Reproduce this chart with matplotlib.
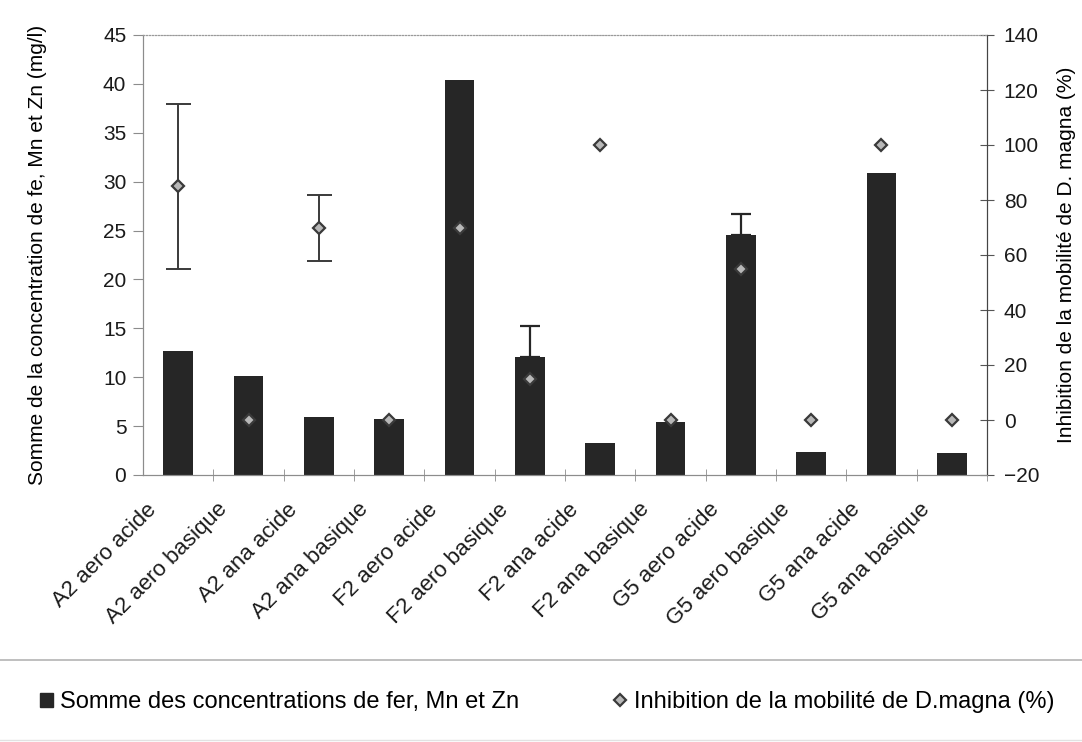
import numpy as np
import matplotlib; matplotlib.use('Agg')
import matplotlib.pyplot as plt
from matplotlib.lines import Line2D
from matplotlib.patches import Patch
from matplotlib.transforms import ScaledTranslation

plt.rcParams.update({'font.family': ['Liberation Sans', 'DejaVu Sans'], 'font.size': 15})

# echantillons (site, condition redox, pH)
categories = ['A2 aero acide', 'A2 aero basique', 'A2 ana acide', 'A2 ana basique',
              'F2 aero acide', 'F2 aero basique', 'F2 ana acide', 'F2 ana basique',
              'G5 aero acide', 'G5 aero basique', 'G5 ana acide', 'G5 ana basique']
# somme fer + Mn + Zn (mg/l) et ecart-type (vers le haut seulement)
somme_metaux = [12.7, 10.1, 5.9, 5.7, 40.4, 12.1, 3.3, 5.4, 24.5, 2.4, 30.9, 2.2]
somme_err = [0, 0, 0, 0, 0, 3.1, 0, 0, 2.2, 0, 0, 0]
# inhibition de la mobilite de D. magna (%) et ecart-type
inhibition = [85, 0, 70, 0, 70, 15, 100, 0, 55, 0, 100, 0]
inhibition_err = [30, 0, 12, 0, 0, 0, 0, 0, 0, 0, 0, 0]

BAR = '#262626'; AX = '#8c8c8c'; INK = '#1a1a1a'

fig = plt.figure(figsize=(10.82, 7.42), dpi=100)
ax = fig.add_axes([143/1082, 1-475/742, (987-143)/1082, (475-35)/742])
x = np.arange(len(categories))
y1 = np.array(somme_metaux); e1 = np.array(somme_err)
y2 = np.array(inhibition); e2 = np.array(inhibition_err)

ax.bar(x, y1, 0.42, color=BAR, zorder=2)
k = e1 > 0  # barres d'erreur seulement quand il y a un ecart-type
ax.errorbar(x[k], y1[k], yerr=[np.zeros(k.sum()), e1[k]], fmt='none',
            ecolor=BAR, elinewidth=1.6, capsize=7, capthick=1.6, zorder=3)
ax.set_xlim(-0.5, len(x)-0.5); ax.set_ylim(0, 45)
ax.set_yticks(np.arange(0, 46, 5))
ax.set_ylabel('Somme de la concentration de fe, Mn et Zn (mg/l)', fontsize=15, labelpad=40)

ax2 = ax.twinx()
k2 = e2 > 0
ax2.errorbar(x[k2], y2[k2], yerr=e2[k2], fmt='none', ecolor='#3a3a3a',
             elinewidth=1.4, capsize=9, capthick=1.4, zorder=4)
ax2.plot(x, y2, ls='none', marker='D', ms=6.5, mfc='#b8b8b8', mec='#3a3a3a',
         mew=1.6, zorder=5)
ax2.set_ylim(-20, 140); ax2.set_yticks(np.arange(-20, 141, 20))
ax2.set_ylabel('Inhibition de la mobilité de D. magna (%)', fontsize=15, labelpad=13)

# cadre : haut en pointille, droite plus sombre
for a in (ax, ax2):
    a.spines['top'].set_linestyle(':'); a.spines['top'].set_color('#9a9a9a')
    a.spines['left'].set_color(AX); a.spines['bottom'].set_color(AX)
    a.spines['right'].set_color('#444444')
ax2.set_zorder(ax.get_zorder()+1); ax2.patch.set_visible(False)

ax.tick_params(axis='y', direction='out', length=7, color=AX, labelsize=15, pad=5, labelcolor=INK)
ax2.tick_params(axis='y', direction='inout', length=10, color='#555555', labelsize=15, pad=7, labelcolor=INK)

# graduations x entre les categories, etiquettes inclinees
ax.set_xticks(x + 0.5, minor=True)
ax.tick_params(axis='x', which='minor', direction='inout', length=9, color=AX)
ax.set_xticks(x)
ax.set_xticklabels(categories, rotation=45, ha='right', va='top', rotation_mode='anchor')
ax.tick_params(axis='x', which='major', length=0, pad=0, labelsize=16, labelcolor=INK)
shift = ScaledTranslation(-0.32, -0.24, fig.dpi_scale_trans)
for lab in ax.get_xticklabels():
    lab.set_transform(lab.get_transform() + shift)

# separation et legende en bas
fig.add_artist(Line2D([0, 1], [1-660/742]*2, transform=fig.transFigure, color='#b4b4b4', lw=1.2))
fig.add_artist(Line2D([0, 1], [1-740/742]*2, transform=fig.transFigure, color='#e2e2e2', lw=1.0))
handles = [Patch(facecolor=BAR, edgecolor=BAR),
           Line2D([], [], ls='none', marker='D', ms=6, mfc='#b8b8b8', mec='#3a3a3a', mew=1.6)]
fig.legend(handles, ['Somme des concentrations de fer, Mn et Zn',
                     'Inhibition de la mobilité de D.magna (%)'],
           loc='center left', bbox_to_anchor=(19/1082, 1-702/742), ncol=2, frameon=False,
           fontsize=17, handlelength=0.55, handleheight=0.55, handletextpad=0.3, columnspacing=4.0)

fig.savefig('out.png', dpi=100)
